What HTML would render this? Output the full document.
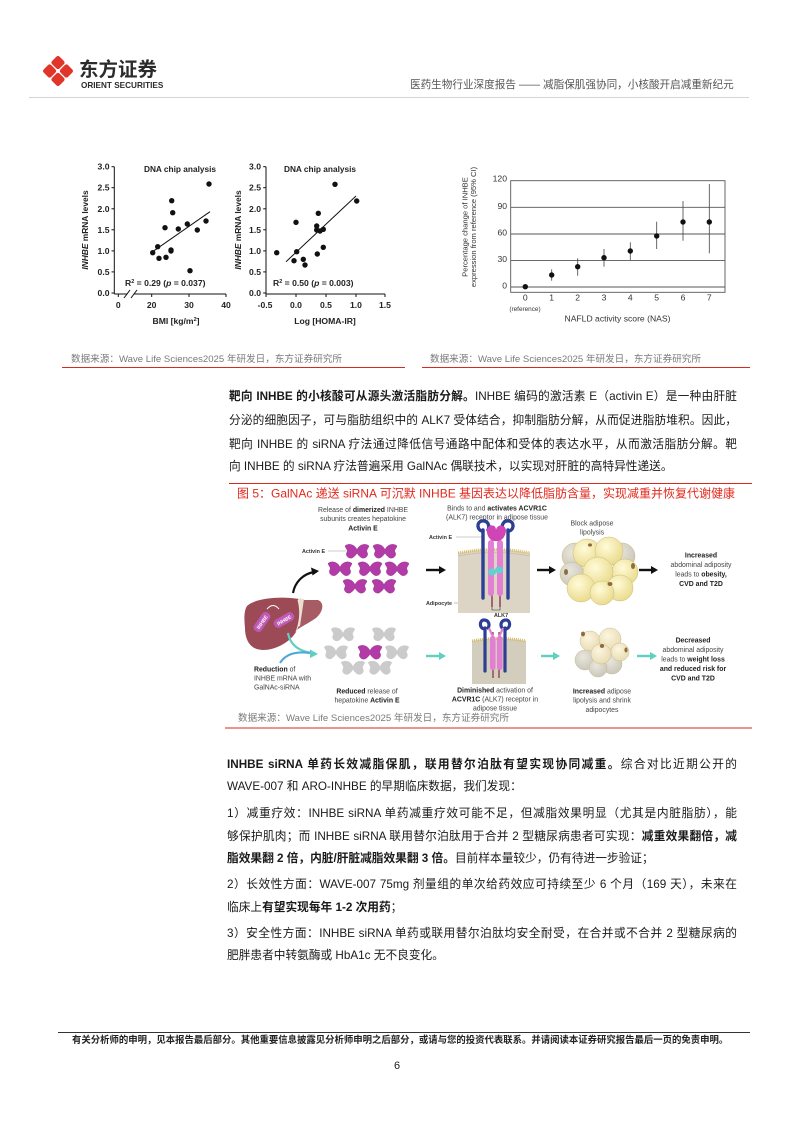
<!DOCTYPE html>
<html lang="zh">
<head>
<meta charset="utf-8">
<style>
html,body{margin:0;padding:0;background:#fff;}
#pg{position:relative;width:794px;height:1123px;overflow:hidden;background:#fff;font-family:"Liberation Sans","Noto Sans CJK SC",sans-serif;color:#1a1a1a;}
.abs{position:absolute;}
.ln{position:absolute;font-size:11.7px;line-height:14px;height:14px;text-align:justify;text-align-last:justify;color:#1a1a1a;}
.last{text-align:left;text-align-last:left;}
.src{position:absolute;font-size:9.6px;line-height:12px;color:#7a7a7a;white-space:nowrap;}
b{font-weight:bold;}
</style>
</head>
<body>
<div id="pg">
<svg class="abs" style="left:0;top:0" width="794" height="1123" viewBox="0 0 794 1123" xmlns="http://www.w3.org/2000/svg" font-family="Liberation Sans, Noto Sans CJK SC, sans-serif">
  <!-- logo -->
  <g fill="#e0352b">
    <rect x="52.7" y="57.3" width="10.6" height="10.6" rx="2.2" transform="rotate(45 58 62.6)"/>
    <rect x="44.3" y="65.7" width="10.6" height="10.6" rx="2.2" transform="rotate(45 49.6 71)"/>
    <rect x="61.1" y="65.7" width="10.6" height="10.6" rx="2.2" transform="rotate(45 66.4 71)"/>
    <rect x="52.7" y="74.1" width="10.6" height="10.6" rx="2.2" transform="rotate(45 58 79.4)"/>
  </g>
  <text x="79" y="76" font-size="19.5" font-weight="bold" fill="#2b2b2b">东方证券</text>
  <text x="81" y="88" font-size="8.2" font-weight="bold" fill="#2b2b2b">ORIENT SECURITIES</text>
  <line x1="29" y1="97.5" x2="749" y2="97.5" stroke="#d4d4d4" stroke-width="1"/>

  <!-- ===== Chart 1 ===== -->
  <g font-weight="bold" fill="#222">
    <text x="180" y="172" font-size="8.3" text-anchor="middle">DNA chip analysis</text>
    <text x="320" y="172" font-size="8.3" text-anchor="middle">DNA chip analysis</text>
  </g>
  <g stroke="#111" stroke-width="1" fill="none">
    <line x1="114.3" y1="166.7" x2="114.3" y2="294"/>
    <line x1="114.3" y1="294" x2="127" y2="294"/>
    <line x1="134" y1="294" x2="226" y2="294"/>
    <line x1="124" y1="298" x2="130" y2="290"/>
    <line x1="131" y1="298" x2="137" y2="290"/>
    <line x1="111.5" y1="166.7" x2="114.3" y2="166.7"/>
    <line x1="111.5" y1="187.7" x2="114.3" y2="187.7"/>
    <line x1="111.5" y1="208.8" x2="114.3" y2="208.8"/>
    <line x1="111.5" y1="229.8" x2="114.3" y2="229.8"/>
    <line x1="111.5" y1="250.9" x2="114.3" y2="250.9"/>
    <line x1="111.5" y1="271.9" x2="114.3" y2="271.9"/>
    <line x1="111.5" y1="293" x2="114.3" y2="293"/>
    <line x1="118.3" y1="294" x2="118.3" y2="297"/>
    <line x1="151.7" y1="294" x2="151.7" y2="297"/>
    <line x1="189" y1="294" x2="189" y2="297"/>
    <line x1="226" y1="294" x2="226" y2="297"/>
    <line x1="151.7" y1="252.3" x2="210" y2="211.7"/>
  </g>
  <g font-size="8.6" font-weight="bold" fill="#222" text-anchor="end">
    <text x="109.5" y="169.7">3.0</text>
    <text x="109.5" y="190.7">2.5</text>
    <text x="109.5" y="211.8">2.0</text>
    <text x="109.5" y="232.8">1.5</text>
    <text x="109.5" y="253.9">1.0</text>
    <text x="109.5" y="274.9">0.5</text>
    <text x="109.5" y="296">0.0</text>
  </g>
  <g font-size="8.6" font-weight="bold" fill="#222" text-anchor="middle">
    <text x="118.3" y="308">0</text>
    <text x="151.7" y="308">20</text>
    <text x="189" y="308">30</text>
    <text x="226" y="308">40</text>
    <text x="176" y="324">BMI [kg/m<tspan font-size="5.5" dy="-3">2</tspan><tspan dy="3">]</tspan></text>
  </g>
  <text x="125" y="286" font-size="8.6" font-weight="bold" fill="#222">R<tspan font-size="5.5" dy="-3">2</tspan><tspan dy="3"> = 0.29 (</tspan><tspan font-style="italic">p</tspan> = 0.037)</text>
  <text transform="translate(88 230) rotate(-90)" font-size="8.4" font-weight="bold" fill="#222" text-anchor="middle"><tspan font-style="italic">INHBE</tspan> mRNA levels</text>
  <g fill="#111">
    <circle cx="152.7" cy="252.7" r="2.7"/><circle cx="157.7" cy="246.7" r="2.7"/>
    <circle cx="159" cy="258.3" r="2.7"/><circle cx="165" cy="227.7" r="2.7"/>
    <circle cx="166" cy="257.3" r="2.7"/><circle cx="171" cy="250" r="2.7"/>
    <circle cx="171" cy="251" r="2.7"/><circle cx="171.7" cy="200.7" r="2.7"/>
    <circle cx="172.7" cy="212.7" r="2.7"/><circle cx="178.3" cy="229" r="2.7"/>
    <circle cx="187.3" cy="224" r="2.7"/><circle cx="190" cy="270.7" r="2.7"/>
    <circle cx="197.3" cy="230" r="2.7"/><circle cx="206" cy="221" r="2.7"/>
    <circle cx="209" cy="184" r="2.7"/>
  </g>

  <!-- ===== Chart 2 ===== -->
  <g stroke="#111" stroke-width="1" fill="none">
    <line x1="266" y1="166.7" x2="266" y2="294"/>
    <line x1="266" y1="294" x2="385" y2="294"/>
    <line x1="263.2" y1="166.7" x2="266" y2="166.7"/>
    <line x1="263.2" y1="187.7" x2="266" y2="187.7"/>
    <line x1="263.2" y1="208.8" x2="266" y2="208.8"/>
    <line x1="263.2" y1="229.8" x2="266" y2="229.8"/>
    <line x1="263.2" y1="250.9" x2="266" y2="250.9"/>
    <line x1="263.2" y1="271.9" x2="266" y2="271.9"/>
    <line x1="263.2" y1="293" x2="266" y2="293"/>
    <line x1="266" y1="294" x2="266" y2="297"/>
    <line x1="296" y1="294" x2="296" y2="297"/>
    <line x1="326" y1="294" x2="326" y2="297"/>
    <line x1="356" y1="294" x2="356" y2="297"/>
    <line x1="385" y1="294" x2="385" y2="297"/>
    <line x1="286" y1="261.7" x2="356" y2="196"/>
  </g>
  <g font-size="8.6" font-weight="bold" fill="#222" text-anchor="end">
    <text x="261" y="169.7">3.0</text>
    <text x="261" y="190.7">2.5</text>
    <text x="261" y="211.8">2.0</text>
    <text x="261" y="232.8">1.5</text>
    <text x="261" y="253.9">1.0</text>
    <text x="261" y="274.9">0.5</text>
    <text x="261" y="296">0.0</text>
  </g>
  <g font-size="8.6" font-weight="bold" fill="#222" text-anchor="middle">
    <text x="265" y="308">-0.5</text>
    <text x="296" y="308">0.0</text>
    <text x="326" y="308">0.5</text>
    <text x="356" y="308">1.0</text>
    <text x="385" y="308">1.5</text>
    <text x="325" y="324">Log [HOMA-IR]</text>
  </g>
  <text x="273" y="286" font-size="8.6" font-weight="bold" fill="#222">R<tspan font-size="5.5" dy="-3">2</tspan><tspan dy="3"> = 0.50 (</tspan><tspan font-style="italic">p</tspan> = 0.003)</text>
  <text transform="translate(241 230) rotate(-90)" font-size="8.4" font-weight="bold" fill="#222" text-anchor="middle"><tspan font-style="italic">INHBE</tspan> mRNA levels</text>
  <g fill="#111">
    <circle cx="276.7" cy="252.7" r="2.7"/><circle cx="294" cy="260.7" r="2.7"/>
    <circle cx="296" cy="222.3" r="2.7"/><circle cx="296.7" cy="251.7" r="2.7"/>
    <circle cx="303.3" cy="259.3" r="2.7"/><circle cx="305" cy="265" r="2.7"/>
    <circle cx="316.7" cy="226" r="2.7"/><circle cx="316.7" cy="230" r="2.7"/>
    <circle cx="317.3" cy="254" r="2.7"/><circle cx="318.3" cy="213.3" r="2.7"/>
    <circle cx="320" cy="231" r="2.7"/><circle cx="323.3" cy="229.3" r="2.7"/>
    <circle cx="323.3" cy="247.3" r="2.7"/><circle cx="335" cy="184.3" r="2.7"/>
    <circle cx="356.7" cy="201" r="2.7"/>
  </g>

  <!-- ===== Right chart ===== -->
  <g stroke="#555" stroke-width="0.9" fill="none">
    <rect x="510.7" y="180.7" width="214.3" height="111.6"/>
    <line x1="510.7" y1="207.3" x2="725" y2="207.3"/>
    <line x1="510.7" y1="234" x2="725" y2="234"/>
    <line x1="510.7" y1="260.4" x2="725" y2="260.4"/>
    <line x1="510.7" y1="287" x2="725" y2="287"/>
  </g>
  <g stroke="#444" stroke-width="0.8">
    <line x1="551.7" y1="269.3" x2="551.7" y2="280.7"/>
    <line x1="577.7" y1="258.3" x2="577.7" y2="275.7"/>
    <line x1="604" y1="249" x2="604" y2="266.7"/>
    <line x1="630.3" y1="242.3" x2="630.3" y2="260"/>
    <line x1="656.7" y1="221.7" x2="656.7" y2="249"/>
    <line x1="683" y1="201" x2="683" y2="240.7"/>
    <line x1="709.3" y1="184" x2="709.3" y2="253.3"/>
  </g>
  <g fill="#111">
    <circle cx="525.3" cy="286.7" r="2.7"/>
    <circle cx="551.7" cy="275" r="2.7"/>
    <circle cx="577.7" cy="266.7" r="2.7"/>
    <circle cx="604" cy="257.7" r="2.7"/>
    <circle cx="630.3" cy="251" r="2.7"/>
    <circle cx="656.7" cy="236" r="2.7"/>
    <circle cx="683" cy="222" r="2.7"/>
    <circle cx="709.3" cy="222" r="2.7"/>
  </g>
  <g font-size="8.6" fill="#333" text-anchor="end">
    <text x="507" y="181.5">120</text>
    <text x="507" y="209">90</text>
    <text x="507" y="235.5">60</text>
    <text x="507" y="262">30</text>
    <text x="507" y="288.5">0</text>
  </g>
  <g font-size="8.6" fill="#333" text-anchor="middle">
    <text x="525.3" y="300.5">0</text>
    <text x="551.7" y="300.5">1</text>
    <text x="577.7" y="300.5">2</text>
    <text x="604" y="300.5">3</text>
    <text x="630.3" y="300.5">4</text>
    <text x="656.7" y="300.5">5</text>
    <text x="683" y="300.5">6</text>
    <text x="709.3" y="300.5">7</text>
    <text x="525" y="311" font-size="6.4">(reference)</text>
    <text x="617.5" y="321.5">NAFLD activity score (NAS)</text>
  </g>
  <g font-size="7.6" fill="#333" text-anchor="middle">
    <text transform="translate(467.5 227) rotate(-90)">Percentage change of INHBE</text>
    <text transform="translate(476 227) rotate(-90)">expression from reference (95% CI)</text>
  </g>

  <!-- source red lines -->
  <line x1="62" y1="367.5" x2="405" y2="367.5" stroke="#d9281e" stroke-width="1"/>
  <line x1="422" y1="367.5" x2="750" y2="367.5" stroke="#d9281e" stroke-width="1"/>

  <!-- ===== Figure 5 ===== -->
  <line x1="229" y1="483.5" x2="752" y2="483.5" stroke="#d9281e" stroke-width="1"/>
  <text x="237" y="497.5" font-size="12" fill="#e3281c">图 5：GalNAc 递送 siRNA 可沉默 INHBE 基因表达以降低脂肪含量，实现减重并恢复代谢健康</text>

  <!-- top text labels -->
  <g font-size="6.9" fill="#444" text-anchor="middle">
    <text x="363" y="512">Release of <tspan font-weight="bold" fill="#222">dimerized</tspan> INHBE</text>
    <text x="363" y="521">subunits creates hepatokine</text>
    <text x="363" y="530.5" font-weight="bold" fill="#222">Activin E</text>
    <text x="497" y="510.5">Binds to and <tspan font-weight="bold" fill="#222">activates ACVR1C</tspan></text>
    <text x="497" y="519.5">(ALK7) receptor in adipose tissue</text>
    <text x="592" y="525.5">Block adipose</text>
    <text x="592" y="534.5">lipolysis</text>
    <text x="701" y="557.5" font-weight="bold" fill="#222">Increased</text>
    <text x="701" y="567">abdominal adiposity</text>
    <text x="701" y="576.5">leads to <tspan font-weight="bold" fill="#222">obesity,</tspan></text>
    <text x="701" y="586" font-weight="bold" fill="#222">CVD and T2D</text>
    <!-- bottom -->
    <text x="367" y="693.5"><tspan font-weight="bold" fill="#222">Reduced</tspan> release of</text>
    <text x="367" y="702.5">hepatokine <tspan font-weight="bold" fill="#222">Activin E</tspan></text>
    <text x="495" y="692.5"><tspan font-weight="bold" fill="#222">Diminished</tspan> activation of</text>
    <text x="495" y="701.5"><tspan font-weight="bold" fill="#222">ACVR1C</tspan> (ALK7) receptor in</text>
    <text x="495" y="710.5">adipose tissue</text>
    <text x="602" y="693.5"><tspan font-weight="bold" fill="#222">Increased</tspan> adipose</text>
    <text x="602" y="702.5">lipolysis and shrink</text>
    <text x="602" y="712">adipocytes</text>
    <text x="693" y="642.5" font-weight="bold" fill="#222">Decreased</text>
    <text x="693" y="652">abdominal adiposity</text>
    <text x="693" y="661.5">leads to <tspan font-weight="bold" fill="#222">weight loss</tspan></text>
    <text x="693" y="671" font-weight="bold" fill="#222">and reduced risk for</text>
    <text x="693" y="680.5" font-weight="bold" fill="#222">CVD and T2D</text>
  </g>
  <g font-size="6.9" fill="#444">
    <text x="254" y="671.5"><tspan font-weight="bold" fill="#222">Reduction</tspan> of</text>
    <text x="254" y="680.5">INHBE mRNA with</text>
    <text x="254" y="689.5">GalNAc-siRNA</text>
  </g>
  <g font-size="5.4" font-weight="bold" fill="#333">
    <text x="302" y="553">Activin E</text>
    <text x="429" y="539">Activin E</text>
    <text x="426" y="605">Adipocyte</text>
    <text x="494" y="617">ALK7</text>
  </g>
  <g stroke="#999" stroke-width="0.6">
    <line x1="328" y1="551" x2="346" y2="551"/>
    <line x1="456" y1="537" x2="482" y2="537"/>
    <line x1="454" y1="603" x2="470" y2="603"/>
  </g>

  <!-- top butterflies -->
  <g fill="#b23ba7" stroke="#8d2a83" stroke-width="0.4">
    <path transform="translate(357 551)" d="M0,-1 C-2,-7 -9,-8 -12,-5 C-11,-2 -9,-1 -10,1 C-12,4 -9,8 -5,7 C-3,6 -1,4 0,2 C1,4 3,6 5,7 C9,8 12,4 10,1 C9,-1 11,-2 12,-5 C9,-8 2,-7 0,-1Z"/>
    <path transform="translate(385 551)" d="M0,-1 C-2,-7 -9,-8 -12,-5 C-11,-2 -9,-1 -10,1 C-12,4 -9,8 -5,7 C-3,6 -1,4 0,2 C1,4 3,6 5,7 C9,8 12,4 10,1 C9,-1 11,-2 12,-5 C9,-8 2,-7 0,-1Z"/>
    <path transform="translate(340 568.5)" d="M0,-1 C-2,-7 -9,-8 -12,-5 C-11,-2 -9,-1 -10,1 C-12,4 -9,8 -5,7 C-3,6 -1,4 0,2 C1,4 3,6 5,7 C9,8 12,4 10,1 C9,-1 11,-2 12,-5 C9,-8 2,-7 0,-1Z"/>
    <path transform="translate(370 568.5)" d="M0,-1 C-2,-7 -9,-8 -12,-5 C-11,-2 -9,-1 -10,1 C-12,4 -9,8 -5,7 C-3,6 -1,4 0,2 C1,4 3,6 5,7 C9,8 12,4 10,1 C9,-1 11,-2 12,-5 C9,-8 2,-7 0,-1Z"/>
    <path transform="translate(397 568.5)" d="M0,-1 C-2,-7 -9,-8 -12,-5 C-11,-2 -9,-1 -10,1 C-12,4 -9,8 -5,7 C-3,6 -1,4 0,2 C1,4 3,6 5,7 C9,8 12,4 10,1 C9,-1 11,-2 12,-5 C9,-8 2,-7 0,-1Z"/>
    <path transform="translate(355 586)" d="M0,-1 C-2,-7 -9,-8 -12,-5 C-11,-2 -9,-1 -10,1 C-12,4 -9,8 -5,7 C-3,6 -1,4 0,2 C1,4 3,6 5,7 C9,8 12,4 10,1 C9,-1 11,-2 12,-5 C9,-8 2,-7 0,-1Z"/>
    <path transform="translate(384 586)" d="M0,-1 C-2,-7 -9,-8 -12,-5 C-11,-2 -9,-1 -10,1 C-12,4 -9,8 -5,7 C-3,6 -1,4 0,2 C1,4 3,6 5,7 C9,8 12,4 10,1 C9,-1 11,-2 12,-5 C9,-8 2,-7 0,-1Z"/>
  </g>
  <!-- bottom butterflies -->
  <g fill="#cbcbcb">
    <path transform="translate(343 634)" d="M0,-1 C-2,-7 -9,-8 -12,-5 C-11,-2 -9,-1 -10,1 C-12,4 -9,8 -5,7 C-3,6 -1,4 0,2 C1,4 3,6 5,7 C9,8 12,4 10,1 C9,-1 11,-2 12,-5 C9,-8 2,-7 0,-1Z"/>
    <path transform="translate(384 634)" d="M0,-1 C-2,-7 -9,-8 -12,-5 C-11,-2 -9,-1 -10,1 C-12,4 -9,8 -5,7 C-3,6 -1,4 0,2 C1,4 3,6 5,7 C9,8 12,4 10,1 C9,-1 11,-2 12,-5 C9,-8 2,-7 0,-1Z"/>
    <path transform="translate(336 652)" d="M0,-1 C-2,-7 -9,-8 -12,-5 C-11,-2 -9,-1 -10,1 C-12,4 -9,8 -5,7 C-3,6 -1,4 0,2 C1,4 3,6 5,7 C9,8 12,4 10,1 C9,-1 11,-2 12,-5 C9,-8 2,-7 0,-1Z"/>
    <path transform="translate(397 652)" d="M0,-1 C-2,-7 -9,-8 -12,-5 C-11,-2 -9,-1 -10,1 C-12,4 -9,8 -5,7 C-3,6 -1,4 0,2 C1,4 3,6 5,7 C9,8 12,4 10,1 C9,-1 11,-2 12,-5 C9,-8 2,-7 0,-1Z"/>
    <path transform="translate(353 667.5)" d="M0,-1 C-2,-7 -9,-8 -12,-5 C-11,-2 -9,-1 -10,1 C-12,4 -9,8 -5,7 C-3,6 -1,4 0,2 C1,4 3,6 5,7 C9,8 12,4 10,1 C9,-1 11,-2 12,-5 C9,-8 2,-7 0,-1Z"/>
    <path transform="translate(380 667.5)" d="M0,-1 C-2,-7 -9,-8 -12,-5 C-11,-2 -9,-1 -10,1 C-12,4 -9,8 -5,7 C-3,6 -1,4 0,2 C1,4 3,6 5,7 C9,8 12,4 10,1 C9,-1 11,-2 12,-5 C9,-8 2,-7 0,-1Z"/>
  </g>
  <path transform="translate(370 652)" fill="#b23ba7" stroke="#8d2a83" stroke-width="0.4" d="M0,-1 C-2,-7 -9,-8 -12,-5 C-11,-2 -9,-1 -10,1 C-12,4 -9,8 -5,7 C-3,6 -1,4 0,2 C1,4 3,6 5,7 C9,8 12,4 10,1 C9,-1 11,-2 12,-5 C9,-8 2,-7 0,-1Z"/>

  <!-- liver -->
  <path d="M300,600 L318,600 C325,603 323,612 316,618 C309,623 302,626 297,630 Z" fill="#a65c62"/>
  <path d="M296,598 L304,599 L300,626 L295,628 Z" fill="#e9dfcf"/>
  <path d="M247,606 C255,598 282,596 298,599 C301,610 299,622 296,632 C290,642 276,650 263,650 C251,650 245,641 245,628 C244,618 244,611 247,606 Z" fill="#9c4a56"/>
  <path d="M298,600 C301,611 300,622 296,632" stroke="#f2e6e6" stroke-width="1" fill="none"/>
  <path d="M267,609 Q273,602 279,609" stroke="#fff" stroke-width="1" fill="none"/>
  <g transform="translate(262 622) rotate(-55)">
    <rect x="-11" y="-4.5" width="22" height="9" rx="4" fill="#c058b6"/>
    <text x="0" y="2" font-size="5" font-weight="bold" fill="#fff" text-anchor="middle">INHBE</text>
  </g>
  <g transform="translate(284 620) rotate(-30)">
    <rect x="-11" y="-4.5" width="22" height="9" rx="4" fill="#c058b6"/>
    <text x="0" y="2" font-size="5" font-weight="bold" fill="#fff" text-anchor="middle">INHBE</text>
  </g>

  <!-- arrows -->
  <path d="M293,593 C295,582 303,574 314,572" stroke="#111" stroke-width="2.2" fill="none"/>
  <path d="M319,571 L311,567.5 L312.5,575.5 Z" fill="#111"/>
  <g stroke="#111" stroke-width="2.4">
    <line x1="426" y1="570" x2="440" y2="570"/>
    <line x1="537" y1="570" x2="550" y2="570"/>
    <line x1="639" y1="570" x2="652" y2="570"/>
  </g>
  <g fill="#111">
    <path d="M446,570 L439,566 L439,574 Z"/>
    <path d="M556,570 L549,566 L549,574 Z"/>
    <path d="M658,570 L651,566 L651,574 Z"/>
  </g>
  <path d="M288,633 Q291,650 312,653" stroke="#5ecfc0" stroke-width="2.2" fill="none"/>
  <path d="M280,663 Q288,650 310,653" stroke="#4fa9d6" stroke-width="2" fill="none"/>
  <path d="M318,654 L310,649.5 L310,658 Z" fill="#5ecfc0"/>
  <g stroke="#5ecfc0" stroke-width="2.4">
    <line x1="426" y1="656" x2="440" y2="656"/>
    <line x1="541" y1="656" x2="554" y2="656"/>
    <line x1="637" y1="656" x2="651" y2="656"/>
  </g>
  <g fill="#5ecfc0">
    <path d="M446,656 L439,652 L439,660 Z"/>
    <path d="M560,656 L553,652 L553,660 Z"/>
    <path d="M657,656 L650,652 L650,660 Z"/>
  </g>

  <!-- receptor top -->
  <path d="M458,553 Q494,546 530,553 L530,613 L458,613 Z" fill="#dcd5c6"/>
  <path d="M458,553 Q494,546 530,553" stroke="#d9bb5c" stroke-width="3" stroke-dasharray="1 1" fill="none"/>
  <path d="M458,556 Q494,549 530,556" stroke="#c9c2b2" stroke-width="1" fill="none"/>
  <g stroke="#2c3f92" stroke-width="3.4" fill="none" stroke-linecap="round">
    <line x1="483" y1="530" x2="483" y2="598"/>
    <line x1="508" y1="530" x2="508" y2="598"/>
    <path d="M483,531 C477,531 476,522 482,521 C488,520 490,526 488,530"/>
    <path d="M508,531 C514,531 515,522 509,521 C503,520 501,526 503,530"/>
  </g>
  <g stroke="#7d1d2e" stroke-width="1.2">
    <line x1="492" y1="538" x2="492" y2="607"/>
    <line x1="500" y1="538" x2="500" y2="607"/>
  </g>
  <path d="M492,607 L492,610 L500,610 L500,607" stroke="#333" stroke-width="0.6" fill="none"/>
  <rect x="488" y="540" width="6" height="56" rx="3" fill="#e27fd2"/>
  <rect x="497" y="540" width="6" height="56" rx="3" fill="#e27fd2"/>
  <path d="M487,529 C489,524 496,524 496,530 C497,524 505,524 506,530 C506,537 501,542 496,541 C491,542 486,536 487,529 Z" fill="#d045b6"/>
  <ellipse cx="492" cy="572" rx="4" ry="3.5" fill="#63cfcf"/>
  <ellipse cx="499" cy="570" rx="4" ry="3.5" fill="#63cfcf"/>

  <!-- receptor bottom -->
  <path d="M472,641 Q499,636 526,641 L526,684 L472,684 Z" fill="#d3cdbd"/>
  <path d="M472,641 Q499,636 526,641" stroke="#d9bb5c" stroke-width="3" stroke-dasharray="1 1" fill="none"/>
  <g stroke="#2c3f92" stroke-width="3.2" fill="none" stroke-linecap="round">
    <line x1="485" y1="628" x2="485" y2="671"/>
    <line x1="505" y1="628" x2="505" y2="671"/>
    <path d="M485,629 C479,629 479,620 484,620 C489,620 490,625 488,628"/>
    <path d="M505,629 C511,629 511,620 506,620 C501,620 500,625 502,628"/>
  </g>
  <g stroke="#7d1d2e" stroke-width="1.1">
    <line x1="493" y1="632" x2="493" y2="678"/>
    <line x1="499" y1="632" x2="499" y2="678"/>
  </g>
  <rect x="490" y="636" width="5.5" height="34" rx="2.5" fill="#e27fd2"/>
  <rect x="497" y="636" width="5.5" height="34" rx="2.5" fill="#e27fd2"/>
  <path d="M489,628 L493,637 M503,628 L499,637" stroke="#e27fd2" stroke-width="2.2"/>

  <!-- adipocytes top -->
  <defs>
    <radialGradient id="fy" cx="0.4" cy="0.35" r="0.7">
      <stop offset="0" stop-color="#fffbd8"/>
      <stop offset="1" stop-color="#e9d98a"/>
    </radialGradient>
    <radialGradient id="fg" cx="0.4" cy="0.35" r="0.7">
      <stop offset="0" stop-color="#e9e6dc"/>
      <stop offset="1" stop-color="#c9c5b8"/>
    </radialGradient>
    <radialGradient id="fc" cx="0.4" cy="0.35" r="0.7">
      <stop offset="0" stop-color="#fdf6df"/>
      <stop offset="1" stop-color="#e7dab0"/>
    </radialGradient>
  </defs>
  <g stroke="#cbbb7a" stroke-width="0.5">
    <circle cx="575" cy="556" r="13" fill="url(#fg)"/>
    <circle cx="622" cy="556" r="13" fill="url(#fg)"/>
    <circle cx="587" cy="553" r="14" fill="url(#fy)"/>
    <circle cx="609" cy="551" r="14" fill="url(#fy)"/>
    <circle cx="572" cy="574" r="12" fill="url(#fg)"/>
    <circle cx="625" cy="572" r="13" fill="url(#fy)"/>
    <circle cx="598" cy="572" r="15" fill="url(#fy)"/>
    <circle cx="620" cy="588" r="13" fill="url(#fy)"/>
    <circle cx="581" cy="588" r="14" fill="url(#fy)"/>
    <circle cx="602" cy="593" r="12" fill="url(#fy)"/>
  </g>
  <g fill="#8e6c3c">
    <ellipse cx="566" cy="572" rx="2" ry="3"/>
    <ellipse cx="633" cy="566" rx="2" ry="3"/>
    <ellipse cx="610" cy="584" rx="2.5" ry="2"/>
    <ellipse cx="590" cy="545" rx="2" ry="1.6"/>
  </g>
  <!-- adipocytes bottom -->
  <g stroke="#c9bd94" stroke-width="0.5">
    <circle cx="585" cy="660" r="10" fill="url(#fg)"/>
    <circle cx="612" cy="664" r="10" fill="url(#fg)"/>
    <circle cx="598" cy="668" r="9" fill="url(#fg)"/>
    <circle cx="590" cy="641" r="10" fill="url(#fc)"/>
    <circle cx="610" cy="639" r="11" fill="url(#fc)"/>
    <circle cx="620" cy="652" r="9" fill="url(#fc)"/>
    <circle cx="601" cy="654" r="10" fill="url(#fc)"/>
  </g>
  <g fill="#8e6c3c">
    <ellipse cx="583" cy="634" rx="2" ry="2.4"/>
    <ellipse cx="602" cy="646" rx="2.2" ry="2"/>
    <ellipse cx="626" cy="650" rx="1.6" ry="2.5"/>
  </g>

  <line x1="225" y1="728" x2="752" y2="728" stroke="#d9281e" stroke-width="1"/>

  <!-- footer -->
  <line x1="58" y1="1032.5" x2="750" y2="1032.5" stroke="#333" stroke-width="1"/>
  <text x="397" y="1069" font-size="11" fill="#222" text-anchor="middle">6</text>
</svg>

<!-- header right -->
<div class="abs" style="left:410px;top:78px;font-size:10.6px;line-height:14px;color:#555;white-space:nowrap;">医药生物行业深度报告 —— 减脂保肌强协同，小核酸开启减重新纪元</div>

<!-- sources -->
<div class="src" style="left:71px;top:354px;">数据来源：Wave Life Sciences2025 年研发日，东方证券研究所</div>
<div class="src" style="left:430px;top:354px;">数据来源：Wave Life Sciences2025 年研发日，东方证券研究所</div>
<div class="src" style="left:238px;top:713px;">数据来源：Wave Life Sciences2025 年研发日，东方证券研究所</div>

<!-- paragraph 1 -->
<div class="ln" style="left:229px;top:390px;width:508px;"><b>靶向 INHBE 的小核酸可从源头激活脂肪分解。</b>INHBE 编码的激活素 E（activin E）是一种由肝脏</div>
<div class="ln" style="left:229px;top:414px;width:508px;">分泌的细胞因子，可与脂肪组织中的 ALK7 受体结合，抑制脂肪分解，从而促进脂肪堆积。因此，</div>
<div class="ln" style="left:229px;top:437.5px;width:508px;">靶向 INHBE 的 siRNA 疗法通过降低信号通路中配体和受体的表达水平，从而激活脂肪分解。靶</div>
<div class="ln last" style="left:229px;top:460px;width:508px;">向 INHBE 的 siRNA 疗法普遍采用 GalNAc 偶联技术，以实现对肝脏的高特异性递送。</div>

<!-- paragraph 2 -->
<div class="ln" style="left:227px;top:757.5px;width:510px;"><b>INHBE siRNA 单药长效减脂保肌，联用替尔泊肽有望实现协同减重。</b>综合对比近期公开的</div>
<div class="ln last" style="left:227px;top:780px;width:510px;">WAVE-007 和 ARO-INHBE 的早期临床数据，我们发现：</div>
<div class="ln" style="left:227px;top:806.5px;width:510px;">1）减重疗效：INHBE siRNA 单药减重疗效可能不足，但减脂效果明显（尤其是内脏脂肪），能</div>
<div class="ln" style="left:227px;top:829.5px;width:510px;">够保护肌肉；而 INHBE siRNA 联用替尔泊肽用于合并 2 型糖尿病患者可实现：<b>减重效果翻倍，减</b></div>
<div class="ln last" style="left:227px;top:851.5px;width:510px;"><b>脂效果翻 2 倍，内脏/肝脏减脂效果翻 3 倍。</b>目前样本量较少，仍有待进一步验证；</div>
<div class="ln" style="left:227px;top:877.5px;width:510px;">2）长效性方面：WAVE-007 75mg 剂量组的单次给药效应可持续至少 6 个月（169 天），未来在</div>
<div class="ln last" style="left:227px;top:900.5px;width:510px;">临床上<b>有望实现每年 1-2 次用药</b>；</div>
<div class="ln" style="left:227px;top:926.5px;width:510px;">3）安全性方面：INHBE siRNA 单药或联用替尔泊肽均安全耐受，在合并或不合并 2 型糖尿病的</div>
<div class="ln last" style="left:227px;top:948.5px;width:510px;">肥胖患者中转氨酶或 HbA1c 无不良变化。</div>

<!-- footer text -->
<div class="abs" style="left:72px;top:1034px;font-size:9.4px;line-height:12px;font-weight:bold;color:#222;white-space:nowrap;">有关分析师的申明，见本报告最后部分。其他重要信息披露见分析师申明之后部分，或请与您的投资代表联系。并请阅读本证券研究报告最后一页的免责申明。</div>
</div>
</body>
</html>
